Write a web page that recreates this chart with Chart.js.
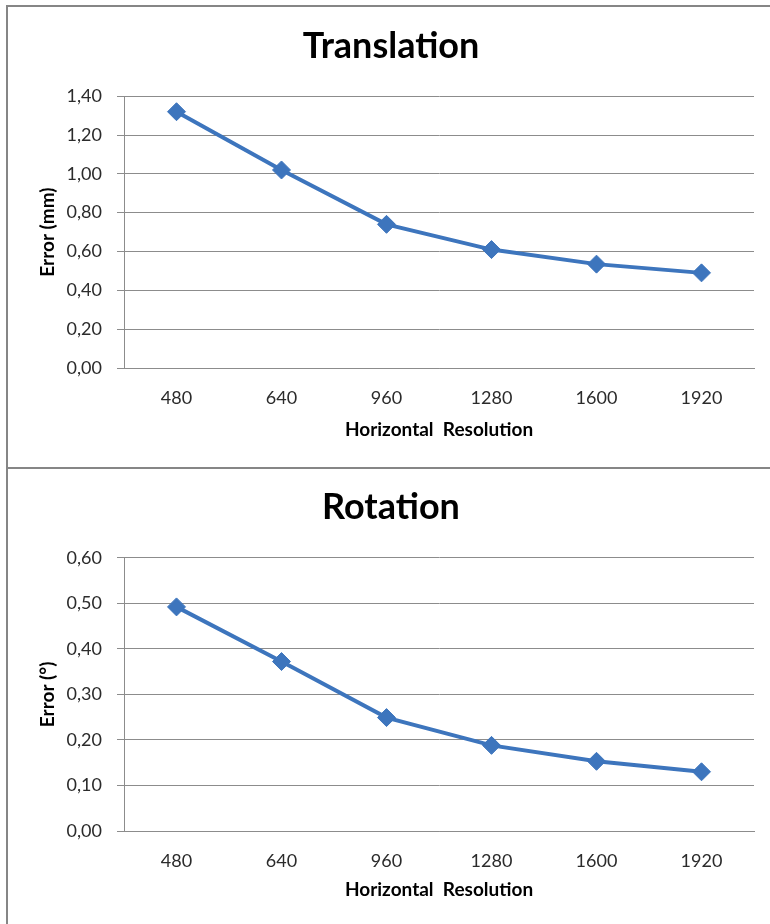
<!DOCTYPE html>
<html>
<head>
<meta charset="utf-8">
<script src="https://cdn.jsdelivr.net/npm/chart.js@4.4.1/dist/chart.umd.min.js"></script>
<style>
  html, body { margin: 0; padding: 0; background: #fff; overflow: hidden; }
  #page { position: relative; width: 770px; height: 924px; overflow: hidden; }
  .box { position: absolute; left: 6px; width: 900px; border: 2px solid #868686; border-right: none; box-sizing: border-box; }
  #box1 { top: 5px; height: 464px; }
  #box2 { top: 467px; height: 600px; border-bottom: none; }
  canvas { position: absolute; left: 0; }
  #cTrans { top: 0; }
  #cRot { top: 467px; }
</style>
</head>
<body>
<div id="page">
  <div class="box" id="box1"></div>
  <div class="box" id="box2"></div>
  <canvas id="cTrans" width="770" height="467"></canvas>
  <canvas id="cRot" width="770" height="457"></canvas>
</div>
<script>
// dados
const resolucoes = ['480', '640', '960', '1280', '1600', '1920'];
const erroTranslacao = [1.32, 1.02, 0.74, 0.61, 0.535, 0.49];
const erroRotacao = [0.492, 0.372, 0.249, 0.188, 0.153, 0.130];
const ticksTranslacao = { max: 1.4, step: 0.2 };
const ticksRotacao = { max: 0.6, step: 0.1 };

const azul = '#3d75bd';
const cinza = '#8c8c8c';
const texto = '#2b2b2b';
const fonte = 'Lato, "DejaVu Sans", sans-serif';

Chart.defaults.font.family = fonte;
Chart.defaults.color = texto;

// centraliza o título na caixa inteira (como no Excel), não só até a área do gráfico
const centrarTitulo = {
  id: 'centrarTitulo',
  afterLayout(chart) {
    const t = chart.titleBlock;
    if (!t) return;
    t.left = 7;
    t.right = 775;
    t.width = 768;
  }
};

// cria um gráfico de linha no estilo do Excel
function criarGrafico(canvas, titulo, tituloY, valores, escala, ajustes) {
  return new Chart(canvas, {
    type: 'line',
    data: {
      labels: resolucoes,
      datasets: [{
        data: valores,
        borderColor: azul,
        backgroundColor: azul,
        borderWidth: 4,
        pointStyle: 'rectRot',
        pointRadius: 9,
        pointBorderWidth: 1,
        tension: 0
      }]
    },
    options: {
      responsive: false,
      animation: false,
      layout: { padding: { left: 0, right: 16, top: 0, bottom: 0 } },
      plugins: {
        legend: { display: false },
        tooltip: { enabled: false },
        title: {
          display: true,
          text: titulo,
          color: '#000',
          font: { size: 36, weight: 'bold', family: fonte },
          padding: { top: ajustes.tituloTopo, bottom: ajustes.tituloBase }
        }
      },
      scales: {
        x: {
          offset: true,
          grid: { display: false, drawTicks: false },
          border: { color: cinza },
          ticks: { padding: 19, font: { size: 18 }, color: texto },
          title: {
            display: true,
            text: 'Horizontal  Resolution',
            color: '#000',
            font: { size: 19, weight: 'bold' },
            padding: { top: 0, bottom: ajustes.eixoXBase }
          },
          afterFit: (s) => { s.height = ajustes.alturaX; }
        },
        y: {
          min: 0,
          max: escala.max,
          grid: { color: cinza, tickLength: 7 },
          border: { color: cinza },
          ticks: {
            stepSize: escala.step,
            padding: 15,
            font: { size: 18 },
            color: texto,
            callback: (v) => v.toFixed(2).replace('.', ',')
          },
          title: {
            display: true,
            text: tituloY,
            color: '#000',
            font: { size: 19, weight: 'bold' },
            padding: { top: 36, bottom: 0 }
          },
          afterFit: (s) => { s.width = 124; }
        }
      }
    },
    plugins: [centrarTitulo]
  });
}

criarGrafico(document.getElementById('cTrans'), 'Translation', 'Error (mm)',
  erroTranslacao, ticksTranslacao,
  { tituloTopo: 25, tituloBase: 28, alturaX: 99, eixoXBase: 26 });

criarGrafico(document.getElementById('cRot'), 'Rotation', 'Error (°)',
  erroRotacao, ticksRotacao,
  { tituloTopo: 19, tituloBase: 28.5, alturaX: 93, eixoXBase: 23 });
</script>
</body>
</html>
